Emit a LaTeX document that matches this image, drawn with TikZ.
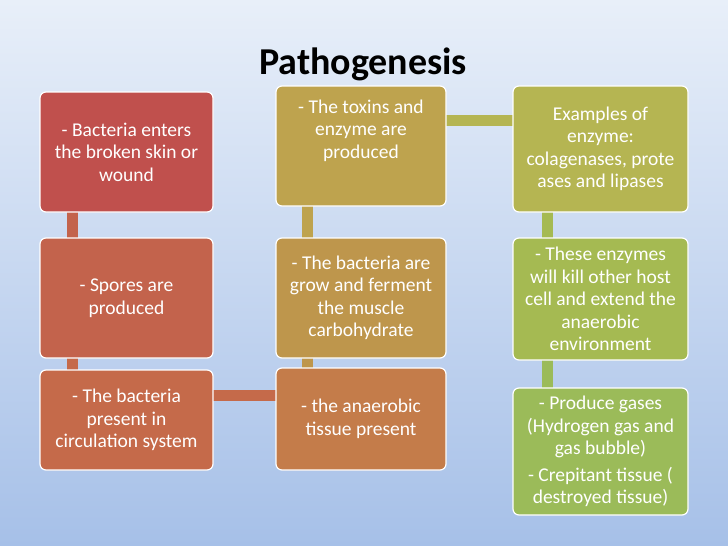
\documentclass[tikz,border=0pt]{standalone}
\usepackage{fontspec}
\setmainfont{Carlito}
\begin{document}
\begin{tikzpicture}[x=1pt,y=-1pt,
  bx/.style={draw=white,line width=1.2pt,rounded corners=6pt,text=white,align=center,font=\fontsize{19.5}{22.5}\selectfont,inner sep=2pt},
  bar/.style={line width=11pt}]
\useasboundingbox (0,0) rectangle (728,546);
\shade[top color={rgb,255:red,232;green,239;blue,249},bottom color={rgb,255:red,166;green,192;blue,232}] (0,0) rectangle (728,546);
\node[font=\bfseries\fontsize{38}{42}\selectfont] (t) at (363,64) {Pathogenesis};
\definecolor{c11}{RGB}{192,80,77}\definecolor{c12}{RGB}{195,99,76}\definecolor{c13}{RGB}{197,106,74}
\definecolor{c21}{RGB}{190,163,78}\definecolor{c22}{RGB}{190,150,76}\definecolor{c23}{RGB}{196,124,74}
\definecolor{c31}{RGB}{181,181,82}\definecolor{c32}{RGB}{165,186,82}\definecolor{c33}{RGB}{155,187,89}
% bars
\draw[bar,c12] (72,212) -- (72,238);
\draw[bar,c13] (72,358) -- (72,370);
\draw[bar,c13] (213,395) -- (276,395);
\draw[bar,c22] (307,358) -- (307,368);
\draw[bar,c21] (307,206) -- (307,238);
\draw[bar,c31] (446,120) -- (513,120);
\draw[bar,c32] (547,212) -- (547,238);
\draw[bar,c33] (547,360) -- (547,388);
% boxes
\node[bx,fill=c11,minimum width=173,minimum height=120] (a1) at (126.5,152) {- Bacteria enters\\the broken skin or\\wound};
\node[bx,fill=c12,minimum width=173,minimum height=120] (a2) at (126.5,298) {- Spores are\\produced};
\node[bx,fill=c13,minimum width=173,minimum height=100] (a3) at (126.5,420) {- The bacteria\\present in\\circulation system};
\node[bx,fill=c21,minimum width=170,minimum height=120] (b1) at (361,146) {- The toxins and\\enzyme are\\produced\\[12pt]};
\node[bx,fill=c22,minimum width=170,minimum height=120] (b2) at (361,298) {- The bacteria are\\grow and ferment\\the muscle\\carbohydrate};
\node[bx,fill=c23,minimum width=170,minimum height=102] (b3) at (361,419) {- the anaerobic\\tissue present};
\node[bx,fill=c31,minimum width=175,minimum height=126] (c1) at (600.5,149) {Examples of\\enzyme:\\colagenases, prote\\ases and lipases};
\node[bx,fill=c32,minimum width=175,minimum height=122] (c2) at (600.5,299) {- These enzymes\\will kill other host\\cell and extend the\\anaerobic\\environment};
\node[bx,fill=c33,minimum width=175,minimum height=127] (c3) at (600.5,451.5) {- Produce gases\\(Hydrogen gas and\\gas bubble)\\[4pt]- Crepitant tissue (\\destroyed tissue)};
\end{tikzpicture}
\end{document}
